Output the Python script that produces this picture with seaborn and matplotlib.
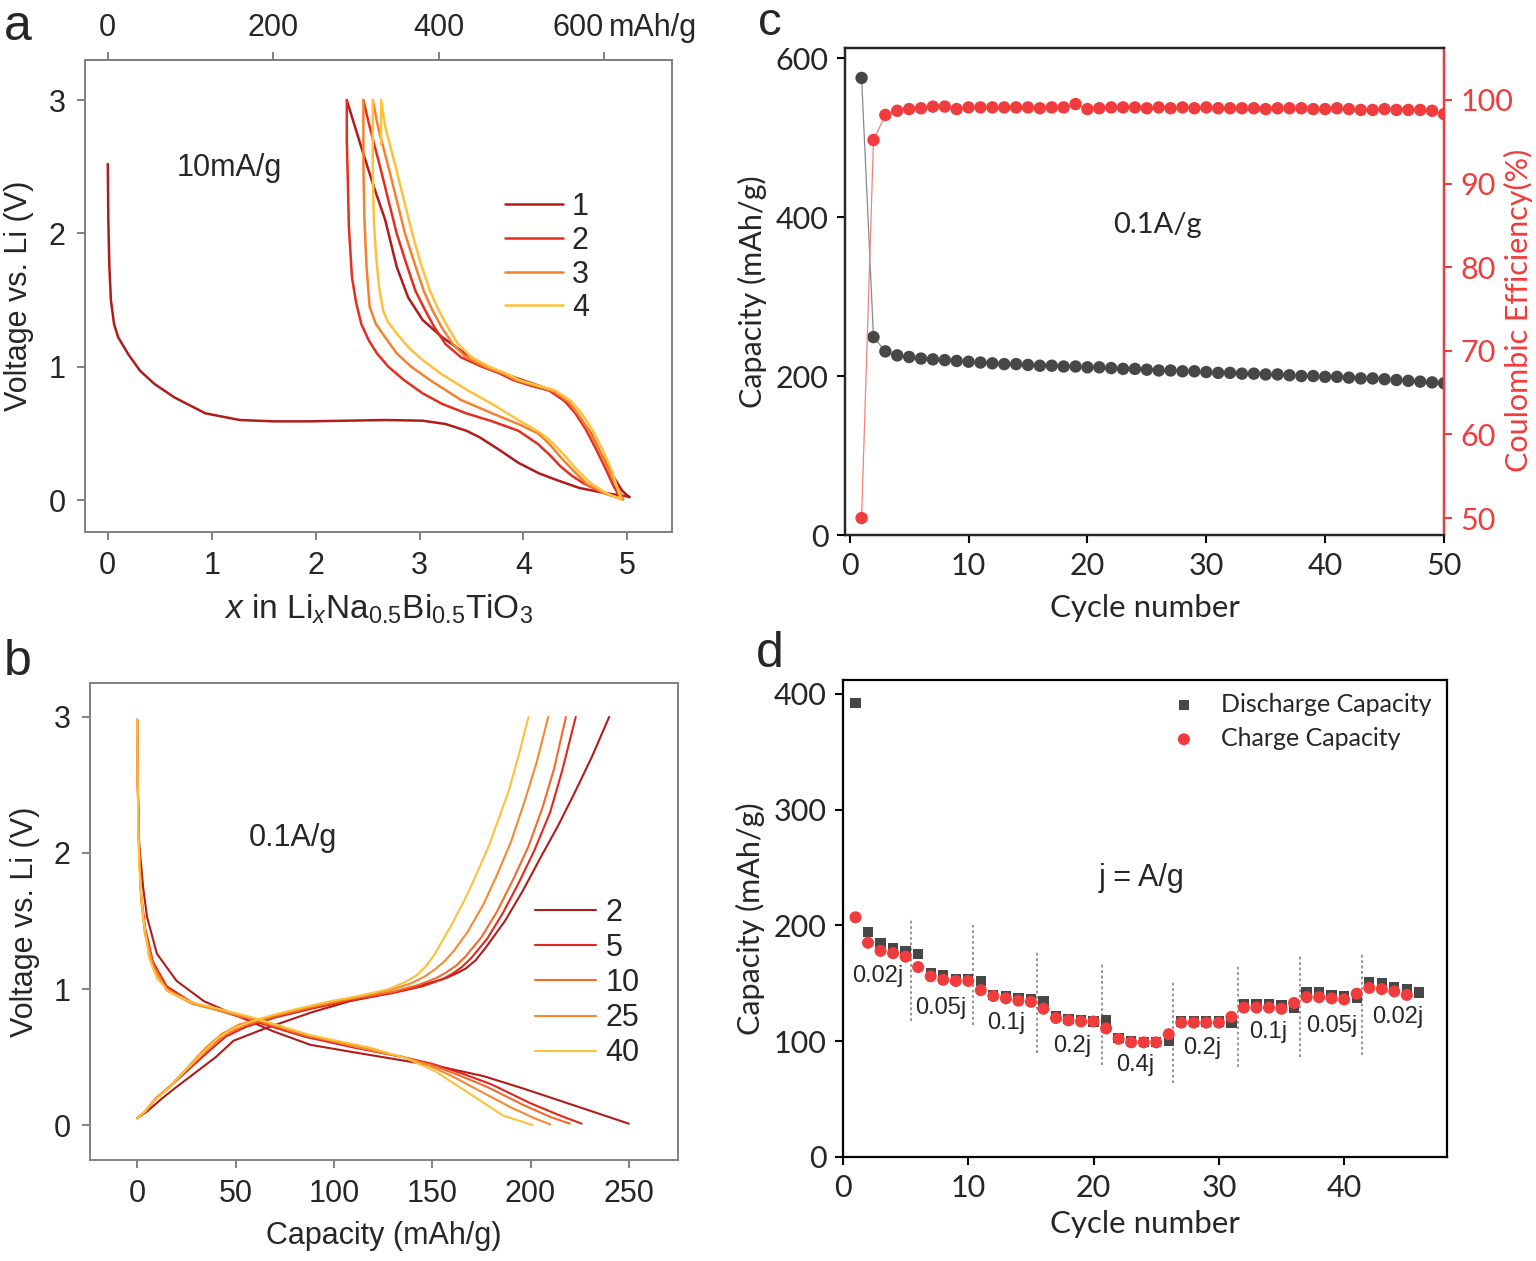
import numpy as np
import matplotlib
matplotlib.use("Agg")
import matplotlib.pyplot as plt
import seaborn as sns
import pandas as pd

sns.set_theme(style="white")
plt.rcParams['font.family'] = ['Liberation Sans', 'DejaVu Sans']
plt.rcParams['mathtext.fontset'] = 'custom'
plt.rcParams['mathtext.rm'] = 'Liberation Sans'
plt.rcParams['mathtext.it'] = 'Liberation Sans:italic'

# ---------------- panel a: first four cycles at 10 mA/g ----------------
a_cycles = ['1', '2', '3', '4']
a_colors = ['#b01c1c', '#e62e1f', '#f5812f', '#fdc13c']

a1_dis_x = [0, 0.005, 0.015, 0.03, 0.06, 0.1, 0.2, 0.31, 0.45, 0.64, 0.94, 1.27, 1.6, 1.93, 2.3,
            2.67, 3.03, 3.25, 3.45, 3.58, 3.78, 3.95, 4.15, 4.32, 4.54, 4.8, 5.02]
a1_dis_v = [2.52, 2.1, 1.75, 1.5, 1.32, 1.22, 1.09, 0.97, 0.87, 0.77, 0.65, 0.60, 0.59, 0.59, 0.595,
            0.6, 0.595, 0.57, 0.52, 0.47, 0.37, 0.28, 0.2, 0.15, 0.09, 0.05, 0.025]
a1_chg_x = [5.02, 4.95, 4.87, 4.75, 4.65, 4.56, 4.47, 4.38, 4.28, 4.14, 3.95, 3.77, 3.58, 3.4,
            3.22, 3.03, 2.89, 2.78, 2.67, 2.56, 2.43, 2.30]
a1_chg_v = [0.02, 0.07, 0.17, 0.34, 0.5, 0.6, 0.7, 0.77, 0.82, 0.86, 0.91, 0.96, 1.03, 1.12,
            1.22, 1.35, 1.52, 1.75, 2.1, 2.35, 2.67, 3.0]

a2_dis_x = [2.30, 2.30, 2.31, 2.32, 2.35, 2.39, 2.44, 2.51, 2.59, 2.7, 2.85, 3.03, 3.22, 3.45,
            3.7, 3.95, 4.14, 4.25, 4.36, 4.47, 4.58, 4.75, 4.94]
a2_dis_v = [3.0, 2.7, 2.4, 2.05, 1.67, 1.48, 1.32, 1.2, 1.1, 1.0, 0.9, 0.8, 0.72, 0.65,
            0.59, 0.52, 0.42, 0.34, 0.25, 0.18, 0.125, 0.06, 0.01]
a2_chg_x = [4.94, 4.87, 4.8, 4.7, 4.6, 4.5, 4.4, 4.25, 4.06, 3.9, 3.77, 3.6, 3.4, 3.25,
            3.14, 3.05, 2.96, 2.87, 2.78, 2.7, 2.63, 2.57, 2.52, 2.46]
a2_chg_v = [0.01, 0.1, 0.22, 0.38, 0.53, 0.65, 0.74, 0.82, 0.86, 0.9, 0.95, 1.0, 1.07, 1.17,
            1.3, 1.43, 1.57, 1.78, 2.0, 2.25, 2.47, 2.65, 2.8, 3.0]

a3_dis_x = [2.46, 2.46, 2.47, 2.49, 2.52, 2.58, 2.67, 2.78, 2.92, 3.1, 3.4, 3.7, 3.95, 4.14,
            4.25, 4.36, 4.48, 4.61, 4.78, 4.96]
a3_dis_v = [3.0, 2.5, 2.1, 1.75, 1.45, 1.32, 1.22, 1.1, 1.0, 0.9, 0.75, 0.65, 0.57, 0.5,
            0.42, 0.32, 0.22, 0.12, 0.05, 0.005]
a3_chg_x = [4.96, 4.9, 4.83, 4.73, 4.63, 4.53, 4.43, 4.28, 4.1, 3.93, 3.8, 3.63, 3.45, 3.32,
            3.21, 3.12, 3.04, 2.95, 2.86, 2.78, 2.71, 2.65, 2.6, 2.55]
a3_chg_v = [0.005, 0.1, 0.21, 0.37, 0.52, 0.64, 0.74, 0.82, 0.86, 0.9, 0.95, 1.0, 1.07, 1.17,
            1.3, 1.43, 1.57, 1.78, 2.0, 2.25, 2.47, 2.65, 2.8, 3.0]

a4_dis_x = [2.55, 2.55, 2.56, 2.58, 2.61, 2.65, 2.7, 2.78, 2.9, 3.03, 3.2, 3.47, 3.7, 3.95,
            4.17, 4.28, 4.39, 4.51, 4.65, 4.8, 4.94]
a4_dis_v = [3.0, 2.5, 2.1, 1.85, 1.6, 1.42, 1.33, 1.25, 1.14, 1.05, 0.95, 0.82, 0.72, 0.6,
            0.5, 0.43, 0.34, 0.23, 0.125, 0.05, 0.005]
a4_chg_x = [4.94, 4.9, 4.85, 4.76, 4.66, 4.56, 4.46, 4.31, 4.13, 3.96, 3.83, 3.67, 3.5, 3.37,
            3.27, 3.18, 3.1, 3.01, 2.93, 2.85, 2.78, 2.72, 2.67, 2.63, 2.63]
a4_chg_v = [0.005, 0.1, 0.22, 0.38, 0.53, 0.65, 0.74, 0.82, 0.86, 0.9, 0.95, 1.0, 1.07, 1.17,
            1.3, 1.43, 1.57, 1.78, 2.0, 2.25, 2.47, 2.65, 2.8, 3.0, 2.67]

# mAh/g per unit of x (top axis)
cap_per_li = 125.6

# ---------------- panel b: selected cycles at 0.1 A/g ----------------
b_cycles = ['2', '5', '10', '25', '40']
b_colors = ['#b01c1c', '#e3261d', '#f26b2a', '#f68a30', '#fdc13c']

b2_dis_c = [0, 0.3, 1, 3, 5, 10, 20, 34, 53, 69, 88, 108, 137, 157, 176, 196, 221, 250]
b2_dis_v = [2.98, 2.5, 2.07, 1.75, 1.53, 1.26, 1.06, 0.91, 0.79, 0.69, 0.59, 0.54, 0.47, 0.42,
            0.36, 0.27, 0.15, 0.01]
b2_chg_c = [0, 5, 13, 20, 30, 40, 49, 65, 89, 108, 125, 137, 150, 157, 163, 167, 172, 177, 187,
            196, 206, 214, 222, 231, 240]
b2_chg_v = [0.05, 0.1, 0.2, 0.28, 0.39, 0.5, 0.62, 0.71, 0.83, 0.91, 0.96, 1.0, 1.05, 1.08, 1.12,
            1.15, 1.21, 1.3, 1.5, 1.72, 1.99, 2.2, 2.43, 2.7, 3.0]

b5_dis_c = [0, 0.3, 0.8, 2, 4, 8, 15, 28, 42, 60, 85, 110, 135, 150, 165, 180, 200, 215, 226]
b5_dis_v = [2.98, 2.5, 2.1, 1.7, 1.45, 1.2, 1.02, 0.9, 0.84, 0.76, 0.65, 0.57, 0.5, 0.45, 0.38,
            0.3, 0.16, 0.07, 0.01]
b5_chg_c = [0, 4, 10, 18, 27, 37, 45, 55, 70, 90, 110, 130, 145, 155, 160, 165, 170, 178, 186,
            194, 202, 210, 216, 223]
b5_chg_v = [0.05, 0.1, 0.2, 0.3, 0.42, 0.55, 0.65, 0.72, 0.79, 0.86, 0.92, 0.97, 1.02, 1.07,
            1.11, 1.16, 1.23, 1.37, 1.56, 1.78, 2.02, 2.3, 2.6, 3.0]

b10_dis_c = [0, 0.3, 0.8, 2, 4, 8, 15, 28, 42, 60, 85, 110, 135, 150, 163, 178, 196, 210, 220]
b10_dis_v = [2.98, 2.5, 2.1, 1.68, 1.42, 1.18, 1.0, 0.9, 0.84, 0.77, 0.66, 0.58, 0.5, 0.44, 0.37,
             0.28, 0.15, 0.06, 0.01]
b10_chg_c = [0, 4, 9, 17, 26, 36, 44, 54, 70, 90, 110, 130, 143, 152, 157, 162, 167, 175, 183,
             191, 199, 206, 212, 218]
b10_chg_v = [0.05, 0.1, 0.19, 0.29, 0.42, 0.56, 0.66, 0.73, 0.8, 0.87, 0.93, 0.98, 1.03, 1.08,
             1.12, 1.17, 1.24, 1.38, 1.57, 1.8, 2.05, 2.33, 2.62, 3.0]

b25_dis_c = [0, 0.3, 0.8, 2, 4, 8, 15, 28, 42, 60, 85, 110, 135, 148, 160, 173, 190, 202, 210]
b25_dis_v = [2.98, 2.5, 2.1, 1.65, 1.4, 1.16, 0.99, 0.89, 0.84, 0.78, 0.67, 0.58, 0.5, 0.44, 0.36,
             0.26, 0.13, 0.05, 0.005]
b25_chg_c = [0, 4, 9, 17, 26, 35, 43, 52, 68, 88, 108, 128, 139, 146, 151, 156, 161, 168, 176,
             183, 190, 197, 203, 209]
b25_chg_v = [0.05, 0.1, 0.19, 0.29, 0.43, 0.57, 0.67, 0.74, 0.8, 0.87, 0.93, 0.99, 1.04, 1.09,
             1.14, 1.2, 1.28, 1.42, 1.62, 1.84, 2.08, 2.38, 2.66, 3.0]

b40_dis_c = [0, 0.2, 0.5, 1, 3, 6, 10, 16, 28, 40, 59, 88, 118, 137, 151, 167, 186, 201]
b40_dis_v = [2.98, 2.6, 2.2, 1.9, 1.53, 1.23, 1.08, 0.98, 0.9, 0.86, 0.79, 0.66, 0.57, 0.49,
             0.4, 0.25, 0.07, 0.0]
b40_chg_c = [0, 4, 8, 16, 25, 34, 41, 49, 58, 69, 83, 98, 113, 128, 136, 142, 147, 151, 155,
             159, 163, 167, 173, 179, 184, 189, 194, 199]
b40_chg_v = [0.05, 0.1, 0.17, 0.27, 0.41, 0.54, 0.64, 0.71, 0.76, 0.81, 0.86, 0.91, 0.95, 1.0,
             1.05, 1.1, 1.17, 1.25, 1.35, 1.45, 1.56, 1.67, 1.86, 2.06, 2.26, 2.46, 2.72, 3.0]

# ---------------- panel c: cycling at 0.1 A/g ----------------
c_cycle = list(range(1, 51))
c_capacity = [575, 249, 231, 226, 224, 222, 221, 220, 219, 218,
              217, 216, 215, 215, 214, 213, 213, 212, 212, 211,
              211, 210, 209, 209, 208, 207, 207, 206, 206, 205,
              204, 204, 203, 203, 202, 202, 201, 200, 200, 199,
              199, 198, 197, 197, 196, 195, 194, 193, 192, 191]
c_efficiency = [50.0, 95.2, 98.2, 98.7, 98.9, 99.0, 99.2, 99.2, 98.9, 99.1,
                99.1, 99.1, 99.1, 99.1, 99.1, 99.0, 99.1, 99.1, 99.5, 98.9,
                99.0, 99.1, 99.1, 99.1, 99.0, 99.1, 99.0, 99.1, 99.0, 99.1,
                99.0, 99.0, 99.0, 99.0, 98.9, 99.0, 99.0, 99.0, 98.9, 98.9,
                99.0, 98.9, 98.8, 98.8, 98.9, 98.8, 98.8, 98.8, 98.7, 98.3]

# ---------------- panel d: rate capability ----------------
d_cycle_dis = list(range(1, 47))
d_discharge = [392, 194, 185, 180, 178, 175, 159, 157, 154, 154,
               152, 140, 139, 137, 136, 135, 122, 119, 118, 117,
               118, 103, 100, 99, 99, 100, 117, 117, 117, 117,
               116, 132, 132, 132, 131, 129, 142, 142, 140, 139,
               137, 151, 150, 147, 145, 142]
d_cycle_chg = list(range(1, 46))
d_charge = [207, 185, 178, 176, 173, 164, 156, 153, 152, 152,
            144, 139, 137, 135, 134, 128, 120, 118, 117, 117,
            111, 102, 99, 99, 99, 106, 116, 116, 116, 116,
            121, 129, 129, 129, 128, 133, 138, 138, 137, 136,
            141, 146, 145, 143, 140]
rate_labels = ['0.02j', '0.05j', '0.1j', '0.2j', '0.4j', '0.2j', '0.1j', '0.05j', '0.02j']
sep_cycle = [5.44, 10.38, 15.5, 20.7, 26.3, 31.5, 36.5, 41.4]
sep_top = [206, 200, 178, 167, 152, 166, 174, 176]
sep_bottom = [117, 114, 90, 79, 64, 78, 86, 88]


def curves_frame(names, parts):
    # one row per point; 'seg' keeps discharge and charge as separate lines
    rows = []
    for name, segs in zip(names, parts):
        for k, (xs, vs) in enumerate(segs):
            for x, v in zip(xs, vs):
                rows.append({'x': x, 'V': v, 'cycle': name, 'seg': f'{name}-{k}'})
    return pd.DataFrame(rows)


df_a = curves_frame(a_cycles, [
    [(a1_dis_x, a1_dis_v), (a1_chg_x, a1_chg_v)],
    [(a2_dis_x, a2_dis_v), (a2_chg_x, a2_chg_v)],
    [(a3_dis_x, a3_dis_v), (a3_chg_x, a3_chg_v)],
    [(a4_dis_x, a4_dis_v), (a4_chg_x, a4_chg_v)],
])
df_b = curves_frame(b_cycles, [
    [(b2_dis_c, b2_dis_v), (b2_chg_c, b2_chg_v)],
    [(b5_dis_c, b5_dis_v), (b5_chg_c, b5_chg_v)],
    [(b10_dis_c, b10_dis_v), (b10_chg_c, b10_chg_v)],
    [(b25_dis_c, b25_dis_v), (b25_chg_c, b25_chg_v)],
    [(b40_dis_c, b40_dis_v), (b40_chg_c, b40_chg_v)],
])

fig = plt.figure(figsize=(15.36, 12.61), dpi=100)
ax_a = fig.add_axes([0.0553, 0.5781, 0.3822, 0.3743])
ax_b = fig.add_axes([0.0586, 0.0801, 0.3828, 0.3783])
ax_c = fig.add_axes([0.5501, 0.5757, 0.3900, 0.3862])
ax_d = fig.add_axes([0.5488, 0.0825, 0.3932, 0.3783])

grey = '#808080'
fs = 22

# the two voltage profile panels share the same look
for ax in (ax_a, ax_b):
    for s in ax.spines.values():
        s.set_color(grey)
        s.set_linewidth(1.4)
    ax.tick_params(axis='both', direction='out', length=6, width=1.4, color=grey,
                   labelsize=fs, pad=8, bottom=True, left=True)

# ----- a -----
sns.lineplot(data=df_a, x='x', y='V', hue='cycle', hue_order=a_cycles, palette=a_colors,
             units='seg', sort=False, estimator=None, linewidth=1.8, ax=ax_a)
ax_a.set_xlim(-0.22, 5.43)
ax_a.set_ylim(-0.24, 3.3)
ax_a.set_xticks([0, 1, 2, 3, 4, 5])
ax_a.set_yticks([0, 1, 2, 3])
ax_a.set_xlabel(r'$x$ in Li$_{x}$Na$_{0.5}$Bi$_{0.5}$TiO$_{3}$', fontsize=24, labelpad=8)
ax_a.set_ylabel('Voltage vs. Li (V)', fontsize=fs, labelpad=10)
ax_a.text(1.17, 2.49, '10mA/g', fontsize=fs, ha='center', va='center')
h, l = ax_a.get_legend_handles_labels()
ax_a.legend(h, l, loc='upper left', bbox_to_anchor=(0.715, 0.72), frameon=False,
            fontsize=fs, handlelength=1.9, handletextpad=0.3, labelspacing=0.12,
            borderpad=0, borderaxespad=0)

top = ax_a.secondary_xaxis('top', functions=(lambda v: v * cap_per_li, lambda c: c / cap_per_li))
top.set_xticks([0, 200, 400, 600])
top_labels = top.set_xticklabels(['0', '200', '400', '600'])
top_labels[-1].set_horizontalalignment('right')
top.tick_params(direction='out', length=6, width=1.4, color=grey, labelsize=fs, pad=6)
top.spines['top'].set_color(grey)
top.spines['top'].set_linewidth(1.4)
fig.text(609 / 1536, 1 - 28 / 1261, 'mAh/g', fontsize=fs, ha='left', va='center')

# ----- b -----
sns.lineplot(data=df_b, x='x', y='V', hue='cycle', hue_order=b_cycles, palette=b_colors,
             units='seg', sort=False, estimator=None, linewidth=1.5, ax=ax_b)
ax_b.set_xlim(-24, 275)
ax_b.set_ylim(-0.257, 3.25)
ax_b.set_xticks([0, 50, 100, 150, 200, 250])
ax_b.set_yticks([0, 1, 2, 3])
ax_b.set_xlabel('Capacity (mAh/g)', fontsize=fs, labelpad=8)
ax_b.set_ylabel('Voltage vs. Li (V)', fontsize=fs, labelpad=10)
ax_b.text(79, 2.11, '0.1A/g', fontsize=fs, ha='center', va='center')
h, l = ax_b.get_legend_handles_labels()
ax_b.legend(h, l, loc='upper left', bbox_to_anchor=(0.757, 0.55), frameon=False,
            fontsize=fs, handlelength=2.0, handletextpad=0.3, labelspacing=0.17,
            borderpad=0, borderaxespad=0)

# ----- c -----
cd_font = ['Lato', 'DejaVu Sans']
red = '#f03c3c'
dark = '#474747'
sns.lineplot(x=c_cycle, y=c_capacity, color='#8a8a8a', linewidth=0.9, ax=ax_c)
sns.scatterplot(x=c_cycle, y=c_capacity, color=dark, s=80, edgecolor='none', ax=ax_c, zorder=3)
ax_e = ax_c.twinx()
sns.lineplot(x=c_cycle, y=c_efficiency, color='#f58080', linewidth=0.9, ax=ax_e)
sns.scatterplot(x=c_cycle, y=c_efficiency, color=red, s=80, edgecolor='none', ax=ax_e, zorder=3)
ax_c.set_xlim(-0.4, 50)
ax_c.set_ylim(0, 612.6)
ax_e.set_ylim(47.97, 106.2)
ax_c.set_xticks([0, 10, 20, 30, 40, 50])
ax_c.set_yticks([0, 200, 400, 600])
ax_e.set_yticks([50, 60, 70, 80, 90, 100])
for s in ax_c.spines.values():
    s.set_color('black')
    s.set_linewidth(1.6)
for s in ax_e.spines.values():
    s.set_linewidth(1.6)
ax_e.spines['right'].set_color(red)
ax_c.tick_params(direction='out', length=6, width=1.5, color='black', labelsize=fs,
                 bottom=True, left=True, pad=6)
ax_e.tick_params(direction='out', length=6, width=1.5, color=red, labelcolor=red,
                 labelsize=fs, right=True, pad=6)
for t in ax_c.get_xticklabels() + ax_c.get_yticklabels() + ax_e.get_yticklabels():
    t.set_family(cd_font)
ax_c.set_xlabel('Cycle number', fontsize=22.5, family=cd_font, labelpad=10)
ax_c.set_ylabel('Capacity (mAh/g)', fontsize=22, family=cd_font, labelpad=6)
ax_e.set_ylabel('Coulombic Efficiency(%)', fontsize=22, family=cd_font, color=red)
ax_e.yaxis.set_label_coords(1.1, 0.462)
ax_c.text(25.9, 390, '0.1A/g', fontsize=21, family=cd_font, ha='center', va='center')

# ----- d -----
sns.scatterplot(x=d_cycle_dis, y=d_discharge, marker='s', color=dark, s=55,
                edgecolor='none', label='Discharge Capacity', ax=ax_d, zorder=3)
sns.scatterplot(x=d_cycle_chg, y=d_charge, marker='o', color=red, s=75,
                edgecolor='none', label='Charge Capacity', ax=ax_d, zorder=4)
ax_d.vlines(sep_cycle, sep_bottom, sep_top, colors='#8c8c8c', linestyles=(0, (1.5, 1.5)),
            linewidth=1.3)
rate_pos = [(2.75, 156), (7.8, 129), (13.0, 116), (18.3, 96), (23.3, 79),
            (28.7, 94), (33.9, 108), (39.0, 113), (44.3, 121)]
for lab, (px, py) in zip(rate_labels, rate_pos):
    ax_d.text(px, py, lab, fontsize=17, ha='center', va='center')
ax_d.text(23.8, 241, 'j = A/g', fontsize=fs, ha='center', va='center')
ax_d.set_xlim(0, 48.2)
ax_d.set_ylim(0, 412)
ax_d.set_xticks([0, 10, 20, 30, 40])
ax_d.set_yticks([0, 100, 200, 300, 400])
for s in ax_d.spines.values():
    s.set_color('black')
    s.set_linewidth(1.6)
ax_d.tick_params(direction='out', length=6, width=1.5, color='black', labelsize=fs,
                 bottom=True, left=True, pad=6)
for t in ax_d.get_xticklabels() + ax_d.get_yticklabels():
    t.set_family(cd_font)
ax_d.set_xlabel('Cycle number', fontsize=22.5, family=cd_font, labelpad=6)
ax_d.set_ylabel('Capacity (mAh/g)', fontsize=22, family=cd_font, labelpad=6)
ax_d.legend(loc='upper right', bbox_to_anchor=(1.0, 1.005), frameon=False,
            handletextpad=0.5, labelspacing=0.45, borderaxespad=0.2,
            prop={'family': cd_font, 'size': 18})

# panel letters (baseline positions in pixels)
for letter, (px, py) in zip(['a', 'b', 'c', 'd'], [(18, 40), (18, 675), (770, 35), (770, 667)]):
    fig.text(px / 1536, 1 - py / 1261, letter, fontsize=34 if letter == 'c' else 36,
             ha='center', va='baseline')

plt.savefig('out.png', dpi=100)
